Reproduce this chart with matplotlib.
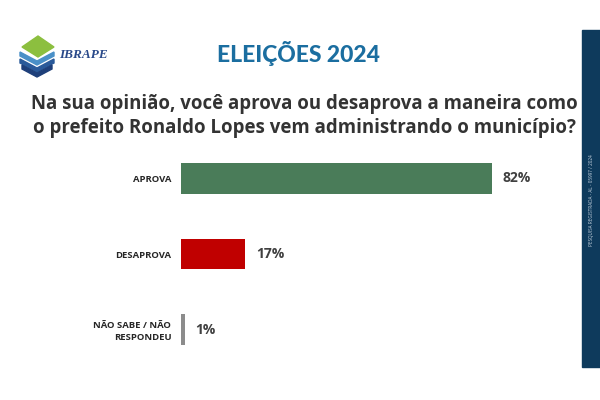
import matplotlib
matplotlib.use("Agg")
import matplotlib.pyplot as plt
from matplotlib.patches import Polygon, Rectangle

categories = ["APROVA", "DESAPROVA", "NÃO SABE / NÃO\nRESPONDEU"]
values = [82, 17, 1]
colors = ["#4a7c59", "#c00000", "#8c8c8c"]
value_labels = ["82%", "17%", "1%"]

plt.rcParams['font.family'] = ['Open Sans', 'DejaVu Sans']

fig = plt.figure(figsize=(6, 4), dpi=100)
fig.patch.set_facecolor("white")

# Bars axes
ax = fig.add_axes([181/600, 1-367.25/400, 379/600, 226.5/400])
ypos = list(range(len(categories)))
ax.barh(ypos, values, height=0.41, color=colors)
ax.set_xlim(0, 100)
ax.set_ylim(2.5, -0.5)
for s in ax.spines.values():
    s.set_visible(False)
ax.set_xticks([])
ax.set_yticks(ypos)
ax.set_yticklabels(categories, fontsize=6.8, fontweight="bold", color="#262626", linespacing=1.4)
ax.tick_params(axis="y", length=0, pad=7)
for y, v, lab in zip(ypos, values, value_labels):
    ax.text(v + 2.8, y, lab, va="center", ha="left", fontsize=10, fontweight="bold", color="#404040")

# Title
fig.text(0.497, 1-53/400, "ELEIÇÕES 2024", ha="center", va="center", fontsize=16.5,
         fontweight="black", color="#1b6ea0", family=["Lato", "DejaVu Sans"])
fig.text(0.508, 1-104/400, "Na sua opinião, você aprova ou desaprova a maneira como",
         ha="center", va="center", fontsize=13.4, fontweight="bold", color="#333333")
fig.text(0.508, 1-128/400, "o prefeito Ronaldo Lopes vem administrando o município?",
         ha="center", va="center", fontsize=13.4, fontweight="bold", color="#333333")

# Right strip
fig.patches.append(Rectangle((582/600, 1-367/400), 18/600, 337/400, transform=fig.transFigure,
                             color="#0e3a5c", zorder=0))
fig.text(591/600, 1-200/400, "PESQUISA REGISTRADA - AL - 05997 / 2024", rotation=90,
         ha="center", va="center", fontsize=3.3, color="#c8d4e0")

# Logo
def P(pts, c):
    fig.patches.append(Polygon([(x/600, 1-y/400) for x, y in pts], closed=True,
                               transform=fig.transFigure, color=c))
P([(22, 47), (38, 36), (54, 47), (38, 57)], "#8cbf3f")
P([(20, 52), (37, 61), (54, 52), (54, 56), (37, 65), (20, 56)], "#4a90c8")
P([(20, 59), (37, 68), (54, 59), (54, 63), (37, 72), (20, 63)], "#2a5a9a")
P([(22, 65), (37, 73), (52, 65), (52, 69), (37, 77), (22, 69)], "#1e3f7a")
fig.text(59/600, 1-55/400, "IBRAPE", ha="left", va="center", fontsize=9.5,
         fontweight="bold", style="italic", color="#2a4a8a", family=["Liberation Serif", "DejaVu Serif"])

fig.savefig("out.png", dpi=100)
